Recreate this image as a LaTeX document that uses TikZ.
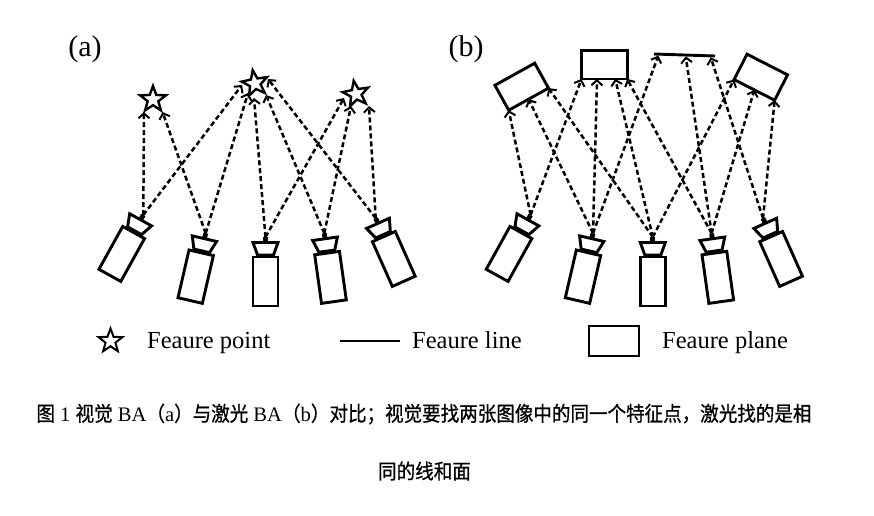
\documentclass[tikz,border=0pt]{standalone}
\usepackage{fontspec}
\setmainfont{Liberation Serif}
\newfontfamily\cjk[FakeStretch=0.9,FakeBold=0.8]{Noto Sans CJK SC}
\usetikzlibrary{arrows.meta,shapes.geometric,calc}
\tikzset{
  cam/.pic={
    \coordinate (-nub) at (0,0);
    \fill (-2.4,0) rectangle (2.4,5);
    \draw[line width=2.9pt, line join=miter] (-12.5,5.5) -- (12.5,5.5) -- (8,18) -- (-8,18) -- cycle;
    \draw[line width=2.9pt] (-12.5,20) rectangle (12.5,69);
  },
  ray/.style={line width=2.5pt, dash pattern=on 5pt off 3pt,
    -{Straight Barb[length=5pt,width=11pt,line width=2pt]}},
  plane/.style={draw, line width=2.9pt, rectangle, inner sep=0pt, outer sep=0pt,
    minimum width=45.5pt, minimum height=28.5pt},
  fpoint/.style={draw, line width=2.4pt, star, star points=5, star point ratio=2.4,
    inner sep=0pt, outer sep=0pt, minimum size=27pt},
  lbl/.style={font=\fontsize{30}{33}\selectfont, inner sep=0pt},
  legtext/.style={font=\fontsize{24.5}{28}\selectfont, anchor=base west, inner sep=0pt},
  captext/.style={font=\fontsize{20.6}{24}\selectfont, inner sep=0pt}
}
\begin{document}
\begin{tikzpicture}[x=1pt,y=-1pt]
\useasboundingbox (0,0) rectangle (874,515);

% labels
\node[lbl] (la) at (85,49) {(a)};
\node[lbl] (lb) at (466,49) {(b)};

% ---------- panel (a) ----------
\pic[rotate=-29] (c1) at (143.3,215) {cam};
\pic[rotate=-13] (c2) at (205.7,233.3) {cam};
\pic (c3) at (265.5,237) {cam};
\pic[rotate=8] (c4) at (324.3,233.3) {cam};
\pic[rotate=24] (c5) at (375.7,218.3) {cam};

\node[fpoint] (s1) at (153,99.5) {};
\node[fpoint, rotate=10] (s2) at (255,83.5) {};
\node[fpoint, rotate=10] (s3) at (356,94) {};

\coordinate (t11) at (144,112);
\coordinate (t12) at (162.5,112);
\coordinate (t21) at (242,85);
\coordinate (t22) at (248,93);
\coordinate (t23) at (254,98);
\coordinate (t24) at (266,95);
\coordinate (t25) at (268,79);
\coordinate (t33) at (344,98);
\coordinate (t34) at (351,106);
\coordinate (t35) at (369,106);

\draw[ray] (c1-nub) -- (t11);
\draw[ray] (c1-nub) -- (t21);
\draw[ray] (c2-nub) -- (t12);
\draw[ray] (c2-nub) -- (t22);
\draw[ray] (c3-nub) -- (t23);
\draw[ray] (c3-nub) -- (t33);
\draw[ray] (c4-nub) -- (t24);
\draw[ray] (c4-nub) -- (t34);
\draw[ray] (c5-nub) -- (t25);
\draw[ray] (c5-nub) -- (t35);

% ---------- panel (b) ----------
\pic[rotate=-29] (d1) at (530.6,215) {cam};
\pic[rotate=-13] (d2) at (593,233.3) {cam};
\pic (d3) at (652.8,237) {cam};
\pic[rotate=8] (d4) at (711.6,233.3) {cam};
\pic[rotate=24] (d5) at (763,218.3) {cam};

\node[plane, rotate=29] (p1) at (521.7,86.7) {};
\node[plane] (p2) at (604.3,64.7) {};
\coordinate (p3a) at (654,54);
\coordinate (p3b) at (715,56);
\draw[line width=2.9pt] (p3a) -- (p3b);
\node[plane, rotate=-27] (p4) at (760.8,77.2) {};

\coordinate (q22) at ($(p2.south west)!0.34!(p2.south east)$);
\coordinate (q23) at ($(p2.south west)!0.74!(p2.south east)$);
\coordinate (q31) at ($(p3a)!0.07!(p3b)+(0,1.5)$);
\coordinate (q32) at ($(p3a)!0.52!(p3b)+(0,1.5)$);
\coordinate (q33) at ($(p3a)!0.93!(p3b)+(0,1.5)$);

\draw[ray] (d1-nub) -- (p1.south west);
\draw[ray] (d1-nub) -- (p2.south west);
\draw[ray] (d2-nub) -- (p1.south);
\draw[ray] (d2-nub) -- (q22);
\draw[ray] (d2-nub) -- (q31);
\draw[ray] (d3-nub) -- (p1.south east);
\draw[ray] (d3-nub) -- (q23);
\draw[ray] (d3-nub) -- (p4.south west);
\draw[ray] (d4-nub) -- (p2.south east);
\draw[ray] (d4-nub) -- (q32);
\draw[ray] (d4-nub) -- (p4.south);
\draw[ray] (d5-nub) -- (q33);
\draw[ray] (d5-nub) -- (p4.south east);

% ---------- legend ----------
\node[fpoint, minimum size=25pt, line width=2pt] (lstar) at (110.5,341) {};
\node[legtext] (lt1) at (147,348) {Feaure point};
\coordinate (ll1) at (340,341);
\coordinate (ll2) at (400,341);
\draw[line width=2.7pt] (ll1) -- (ll2);
\node[legtext] (lt2) at (412,348) {Feaure line};
\node[plane, minimum width=50pt, minimum height=30pt] (lrect) at (614,341) {};
\node[legtext] (lt3) at (662,348) {Feaure plane};

% ---------- caption ----------
\node[captext] (cap1) at (424,414) {{\cjk 图}\ 1\ {\cjk 视觉}\ BA{\cjk （}a{\cjk ）与激光}\ BA{\cjk （}b{\cjk ）对比；视觉要找两张图像中的同一个特征点，激光找的是相}};
\node[captext] (cap2) at (424.5,471) {\cjk 同的线和面};
\end{tikzpicture}
\end{document}
